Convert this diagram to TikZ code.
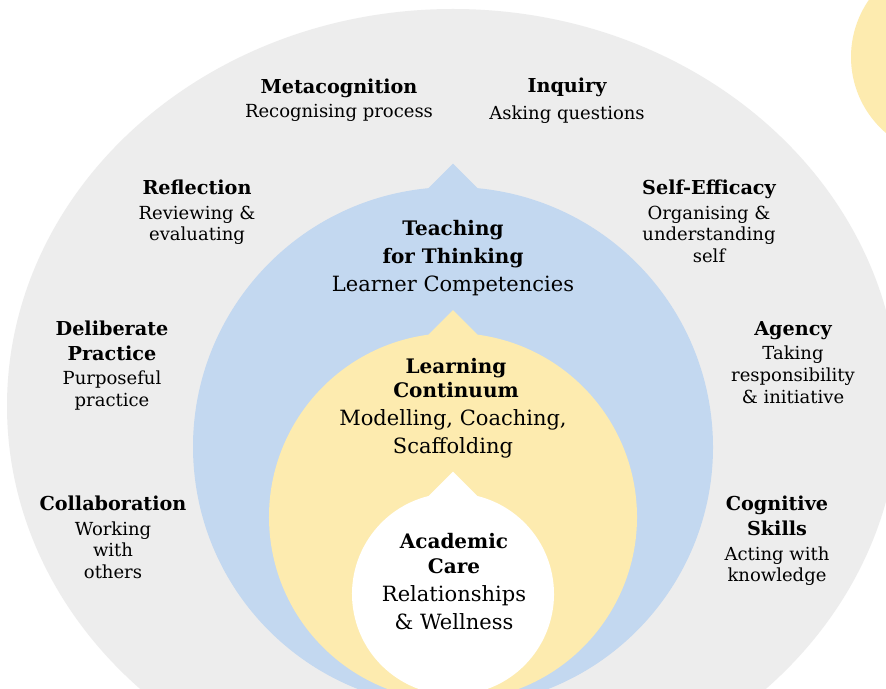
\documentclass[tikz,border=0pt]{standalone}
\usepackage{fontspec}
\setmainfont{DejaVu Serif}
\definecolor{ringgray}{HTML}{EDEDED}
\definecolor{ringblue}{HTML}{C3D8F0}
\definecolor{ringyellow}{HTML}{FDEBAF}
\tikzset{
  hd/.style={font=\bfseries\fontsize{19.2}{22}\selectfont, anchor=mid, inner sep=0pt},
  ds/.style={font=\fontsize{18}{21}\selectfont, anchor=mid, inner sep=0pt},
  bighd/.style={font=\bfseries\fontsize{20}{24}\selectfont, anchor=mid, inner sep=0pt},
  bigds/.style={font=\fontsize{21}{24}\selectfont, anchor=mid, inner sep=0pt},
}
% teardrop: circle centre #1, radius #2, half-angle #3 of the notch, notch half-width #4
\newcommand\droppath[4]{%
  #1 ++(90+#3:#2) arc[start angle=90+#3, end angle=450-#3, radius=#2] -- ++(-#4,#4) -- cycle}
\begin{document}
\begin{tikzpicture}[x=1pt,y=1pt]
\useasboundingbox (0,0) rectangle (886,688);
\fill[white] (0,0) rectangle (886,688);
% decorative disc in the corner
\fill[ringyellow] (951,631) circle[radius=100];
% outer ring
\fill[ringgray] (453,282) ellipse[x radius=446, y radius=397];
% nested drops
\fill[ringblue] \droppath{(453,241)}{260}{5.41}{24.5};
\fill[ringyellow] \droppath{(453,171)}{184}{7.65}{24.5};
\fill[white] \droppath{(453,94)}{101}{14.04}{24.5};

\begin{scope}[yshift=-4.5pt]
% outer competencies
\node[hd] (meta1) at (339,602) {Metacognition};
\node[ds] (meta2) at (339,578) {Recognising process};
\node[hd] (inq1) at (567,603) {Inquiry};
\node[ds] (inq2) at (567,576) {Asking questions};
\node[hd] (refl1) at (197,501) {Reflection};
\node[ds] (refl2) at (197,476) {Reviewing \&};
\node[ds] (refl3) at (197,455) {evaluating};
\node[hd] (self1) at (709,501) {Self-Efficacy};
\node[ds] (self2) at (709,476) {Organising \&};
\node[ds] (self3) at (709,455) {understanding};
\node[ds] (self4) at (709,433) {self};
\node[hd] (del1) at (112,360) {Deliberate};
\node[hd] (del2) at (112,335) {Practice};
\node[ds] (del3) at (112,311) {Purposeful};
\node[ds] (del4) at (112,289) {practice};
\node[hd] (ag1) at (793,360) {Agency};
\node[ds] (ag2) at (793,336) {Taking};
\node[ds] (ag3) at (793,314) {responsibility};
\node[ds] (ag4) at (793,292) {\& initiative};
\node[hd] (col1) at (113,185) {Collaboration};
\node[ds] (col2) at (113,160) {Working};
\node[ds] (col3) at (113,139) {with};
\node[ds] (col4) at (113,117) {others};
\node[hd] (cog1) at (777,185) {Cognitive};
\node[hd] (cog2) at (777,160) {Skills};
\node[ds] (cog3) at (777,135) {Acting with};
\node[ds] (cog4) at (777,114) {knowledge};

% drop labels
\node[bighd] (tft1) at (453,460) {Teaching};
\node[bighd] (tft2) at (453,432) {for Thinking};
\node[bigds] (tft3) at (453,404) {Learner Competencies};
\node[bighd] (lc1) at (456,322) {Learning};
\node[bighd] (lc2) at (456,298) {Continuum};
\node[bigds] (lc3) at (453,270) {Modelling, Coaching,};
\node[bigds] (lc4) at (453,242) {Scaffolding};
\node[bighd] (ac1) at (454,147) {Academic};
\node[bighd] (ac2) at (454,122) {Care};
\node[bigds] (ac3) at (454,94) {Relationships};
\node[bigds] (ac4) at (454,66) {\& Wellness};
\end{scope}
\end{tikzpicture}
\end{document}
